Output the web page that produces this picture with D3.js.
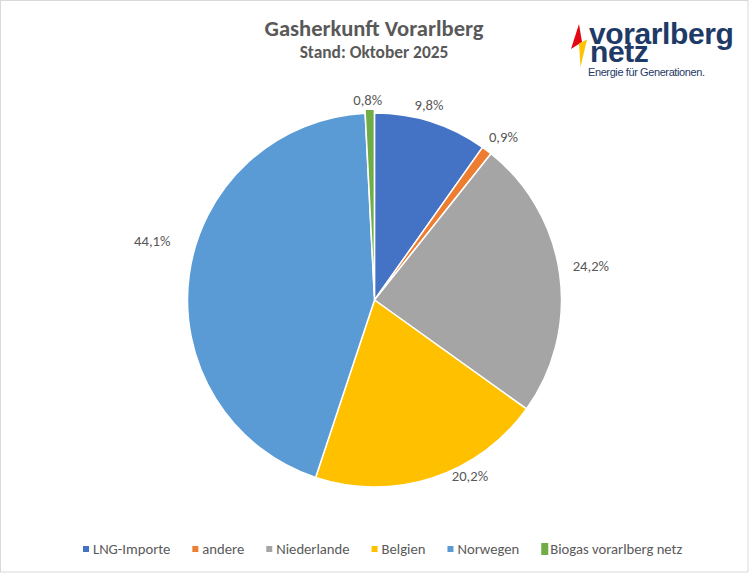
<!DOCTYPE html>
<html><head><meta charset="utf-8">
<script src="https://cdn.jsdelivr.net/npm/d3@7"></script>
<style>body{margin:0;background:#fff}svg{display:block}</style>
</head><body>
<svg id="c" width="749" height="573"></svg>
<script>
const categories = ["LNG-Importe","andere","Niederlande","Belgien","Norwegen","Biogas vorarlberg netz"];
const values = [9.8, 0.9, 24.2, 20.2, 44.1, 0.8];
const valueLabels = ["9,8%","0,9%","24,2%","20,2%","44,1%","0,8%"];
const colors = ["#4472C4","#ED7D31","#A5A5A5","#FFC000","#5B9BD5","#70AD47"];
const title = "Gasherkunft Vorarlberg";
const subtitle = "Stand: Oktober 2025";

const svg = d3.select("#c");
const W = 749, H = 573;
const font = "Carlito, 'Open Sans', 'Liberation Sans', sans-serif";
svg.append("rect").attr("x",0.5).attr("y",0.5).attr("width",W-1.5).attr("height",H-1.5)
  .attr("fill","#fff").attr("stroke","#d9d9d9");

svg.append("text").attr("x",374).attr("y",36).attr("text-anchor","middle")
  .attr("font-family",font).attr("font-weight","bold").attr("font-size",22.6)
  .attr("fill","#595959").text(title);
svg.append("text").attr("x",374).attr("y",58).attr("text-anchor","middle")
  .attr("font-family",font).attr("font-weight","bold").attr("font-size",17.4)
  .attr("fill","#595959").text(subtitle);

// logo
const logo = svg.append("g");
const lf = "'Liberation Sans', Arial, sans-serif";
logo.append("path").attr("d","M579,24 L571,49 L582,42 Z").attr("fill","#e30613");
logo.append("path").attr("d","M579,43.5 L587,39.5 L580.5,67 Z").attr("fill","#fdc300");
const lt = logo.append("text").attr("font-family",lf)
  .attr("font-weight","bold").attr("font-size",30).attr("letter-spacing",-0.4).attr("fill","#1e3a66");
lt.append("tspan").attr("x",589).attr("y",44).text("vorarlberg");
lt.append("tspan").attr("x",590).attr("y",62).text("netz");
logo.append("text").attr("x",588).attr("y",76).attr("font-family",lf)
  .attr("font-size",11).attr("letter-spacing",-0.4).attr("fill","#1e3a66").text("Energie für Generationen.");

// pie
const cx = 374.5, cy = 300, R = 187;
const pie = d3.pie().sort(null).value(d => d)(values);
const arc = d3.arc().innerRadius(0).outerRadius(R);
const explode = [0,0,0,0,0,4];
const g = svg.append("g").attr("transform",`translate(${cx},${cy})`);
g.selectAll("path").data(pie).join("path")
  .attr("d", arc)
  .attr("fill",(d,i)=>colors[i])
  .attr("stroke","#fff").attr("stroke-width",1.5).attr("stroke-linejoin","round")
  .attr("transform",(d,i)=>{
    const a=(d.startAngle+d.endAngle)/2;
    return `translate(${explode[i]*Math.sin(a)},${-explode[i]*Math.cos(a)})`;
  });

// label placement: mid angle with nudge (deg) and radius
const labelNudge = [[-2,202],[1.4,208],[-1,219],[-10.5,200],[7.2,230],[-0.5,200]];
g.selectAll("text.lbl").data(pie).join("text").attr("class","lbl")
  .attr("font-family",font).attr("font-size",14.67).attr("fill","#595959")
  .attr("text-anchor","middle").attr("dominant-baseline","central")
  .attr("x",(d,i)=>{const a=(d.startAngle+d.endAngle)/2+labelNudge[i][0]*Math.PI/180;return labelNudge[i][1]*Math.sin(a);})
  .attr("y",(d,i)=>{const a=(d.startAngle+d.endAngle)/2+labelNudge[i][0]*Math.PI/180;return -labelNudge[i][1]*Math.cos(a);})
  .text((d,i)=>valueLabels[i]);

// legend
const leg = svg.append("g");
let x = 0;
categories.forEach((c,i)=>{
  const it = leg.append("g");
  const big = i===5;
  it.append("rect").attr("x",x).attr("y",big?-6:-3).attr("width",big?7:6).attr("height",big?12:6).attr("fill",colors[i]);
  const t = it.append("text").attr("x",x+(big?9:10)).attr("y",0).attr("dominant-baseline","central")
    .attr("font-family",font).attr("font-size",14.67).attr("fill","#595959").text(c);
  x += (big?9:10) + t.node().getComputedTextLength() + 22;
});
leg.attr("transform",`translate(83,549)`);
</script>
</body></html>
